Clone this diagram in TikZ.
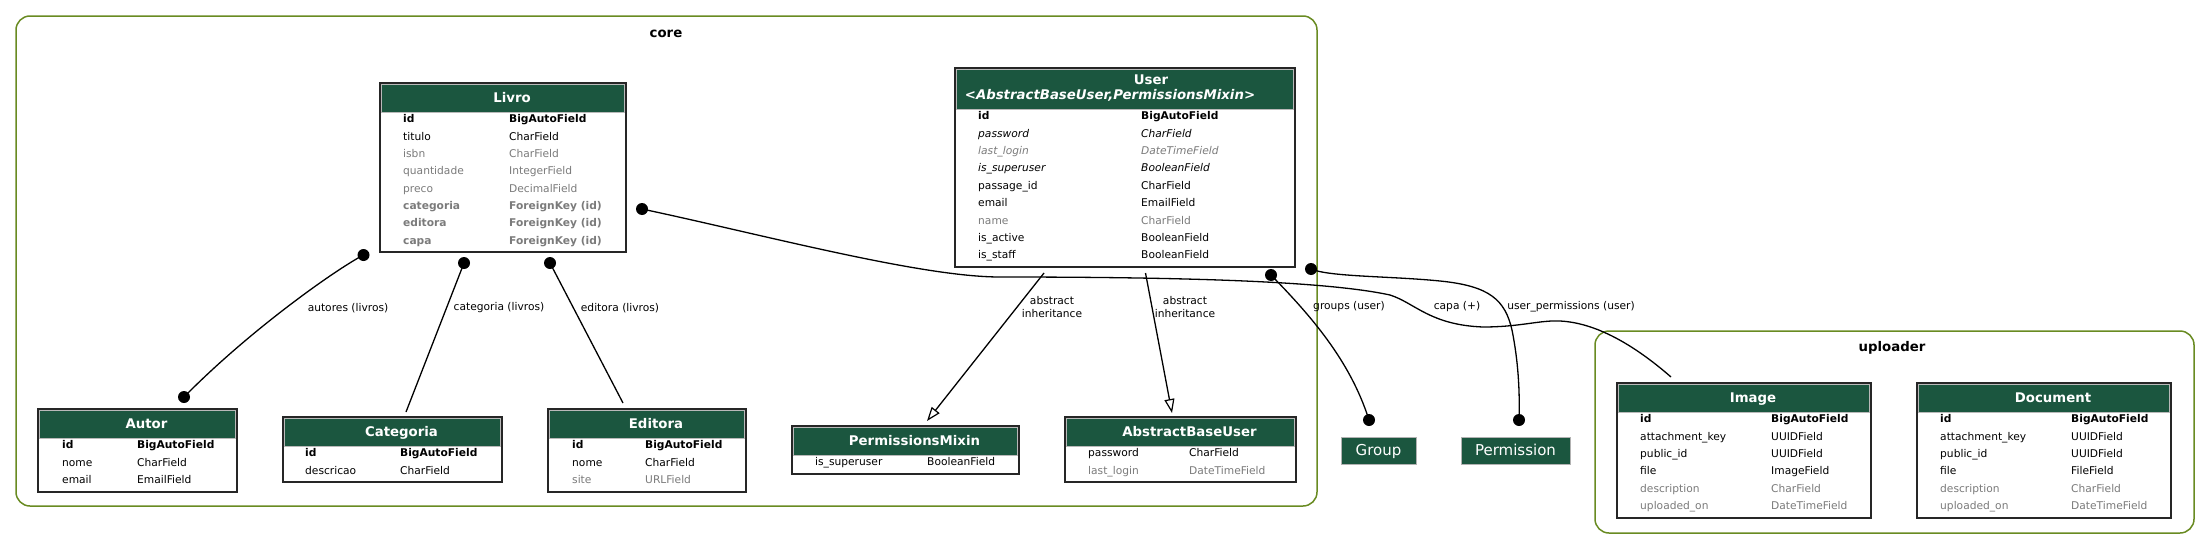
\documentclass[tikz,border=0pt]{standalone}
\usepackage{fontspec}
\setmainfont{DejaVu Sans}[BoldFont={DejaVu Sans Bold}, ItalicFont={DejaVu Sans Oblique}, BoldItalicFont={DejaVu Sans Bold Oblique}]
\usetikzlibrary{fit,arrows.meta}
\definecolor{hdrgreen}{HTML}{1B563F}
\definecolor{clusterc}{HTML}{698B22}
\definecolor{greytxt}{HTML}{7B7B7B}
\newcommand{\fsrow}{\fontsize{10.67}{12.4}\selectfont}
\newcommand{\fshdr}{\fontsize{13.3}{15}\selectfont\bfseries}
\tikzset{
  tblbox/.style={draw=black!85, line width=1.7pt, fill=white, inner sep=0pt},
  hdrbox/.style={draw=gray!55, line width=0.8pt, fill=hdrgreen, inner sep=0pt},
  hdrtext/.style={text=white, font=\fshdr, inner sep=0pt, text height=9.7pt, text depth=0pt},
  rowtext/.style={anchor=west, inner sep=0pt, font=\fsrow, text height=7.8pt, text depth=0pt},
  pk/.style={font=\fsrow\bfseries},
  gtxt/.style={text=greytxt},
  fk/.style={font=\fsrow\bfseries, text=greytxt},
  inh/.style={font=\fsrow\itshape},
  ginh/.style={font=\fsrow\itshape, text=greytxt},
  cluster/.style={draw=clusterc, line width=1.5pt, rounded corners=14pt, inner sep=0pt},
  clabel/.style={font=\fshdr, inner sep=0pt, text height=9.7pt, text depth=0pt},
  conn/.style={line width=1.3pt, black},
  dotn/.style={circle, fill=black, minimum size=12pt, inner sep=0pt},
  elabel/.style={font=\fsrow, inner sep=0pt, align=center},
  extbox/.style={fill=hdrgreen, draw=gray!60, line width=0.8pt, text=white, font=\fontsize{15}{17}\selectfont, inner sep=0pt, text height=10.9pt, text depth=0pt},
  inherit/.style={conn, -{Triangle[open, length=14pt, width=10pt, line width=1.2pt]}},
}
\newcommand{\mymodel}[7]{%
  \node[tblbox, fit={(#2,#3) (#4,#5)}] (#1) {};
  \node[hdrbox, fit={(#2+1.7,#3+1.7) (#4-1.7,#6)}] (#1-h) {};
  \node[hdrtext] (#1-t) at ({(#2+#4)/2+9},{(#3+#6)/2}) {#7};
}
\newcommand{\myrow}[7]{%
  \node[rowtext,#5] (#1-n) at (#3,#2) {#6};
  \node[rowtext,#5] (#1-y) at (#4,#2) {#7};
}
\begin{document}
\begin{tikzpicture}[x=1pt,y=-1pt]
\useasboundingbox (0,0) rectangle (2209,549);
% clusters
\node[cluster, fit={(16,16) (1317,506)}] (core) {};
\node[clabel] (core-l) at (666,33) {core};
\node[cluster, fit={(1595,331) (2194,533)}] (uploader) {};
\node[clabel] (uploader-l) at (1892,347) {uploader};

% Livro
\mymodel{livro}{380}{83}{626}{252}{112}{Livro}
\myrow{lv1}{119}{403}{509}{pk}{id}{BigAutoField}
\myrow{lv2}{136.3}{403}{509}{}{titulo}{CharField}
\myrow{lv3}{153.6}{403}{509}{gtxt}{isbn}{CharField}
\myrow{lv4}{170.9}{403}{509}{gtxt}{quantidade}{IntegerField}
\myrow{lv5}{188.2}{403}{509}{gtxt}{preco}{DecimalField}
\myrow{lv6}{205.5}{403}{509}{fk}{categoria}{ForeignKey (id)}
\myrow{lv7}{222.8}{403}{509}{fk}{editora}{ForeignKey (id)}
\myrow{lv8}{240.1}{403}{509}{fk}{capa}{ForeignKey (id)}

% User
\node[tblbox, fit={(955,68) (1295,267)}] (user) {};
\node[hdrbox, fit={(956.7,69.7) (1293.3,109)}] (user-h) {};
\node[hdrtext] (user-t1) at (1151,80) {User};
\node[hdrtext, font=\fshdr\itshape] (user-t2) at (1110,95) {<AbstractBaseUser,PermissionsMixin>};
\myrow{us1}{116}{978}{1141}{pk}{id}{BigAutoField}
\myrow{us2}{133.35}{978}{1141}{inh}{password}{CharField}
\myrow{us3}{150.7}{978}{1141}{ginh}{last\_login}{DateTimeField}
\myrow{us4}{168.05}{978}{1141}{inh}{is\_superuser}{BooleanField}
\myrow{us5}{185.4}{978}{1141}{}{passage\_id}{CharField}
\myrow{us6}{202.75}{978}{1141}{}{email}{EmailField}
\myrow{us7}{220.1}{978}{1141}{gtxt}{name}{CharField}
\myrow{us8}{237.45}{978}{1141}{}{is\_active}{BooleanField}
\myrow{us9}{254.8}{978}{1141}{}{is\_staff}{BooleanField}

% Autor
\mymodel{autor}{38}{409}{237}{492}{438}{Autor}
\myrow{au1}{445}{62}{137}{pk}{id}{BigAutoField}
\myrow{au2}{462.3}{62}{137}{}{nome}{CharField}
\myrow{au3}{479.6}{62}{137}{}{email}{EmailField}

% Categoria
\mymodel{categoria}{283}{417}{502}{482}{446}{Categoria}
\myrow{ca1}{453}{305}{400}{pk}{id}{BigAutoField}
\myrow{ca2}{470.3}{305}{400}{}{descricao}{CharField}

% Editora
\mymodel{editora}{548}{409}{746}{492}{438}{Editora}
\myrow{ed1}{445}{572}{645}{pk}{id}{BigAutoField}
\myrow{ed2}{462.3}{572}{645}{}{nome}{CharField}
\myrow{ed3}{479.6}{572}{645}{gtxt}{site}{URLField}

% PermissionsMixin
\mymodel{pmixin}{792}{426}{1019}{474}{455}{PermissionsMixin}
\myrow{pm1}{462}{815}{927}{}{is\_superuser}{BooleanField}

% AbstractBaseUser
\mymodel{abu}{1065}{417}{1296}{482}{446}{AbstractBaseUser}
\myrow{ab1}{453}{1088}{1189}{}{password}{CharField}
\myrow{ab2}{470.3}{1088}{1189}{gtxt}{last\_login}{DateTimeField}

% Group, Permission
\node[extbox, minimum width=75pt, minimum height=27pt] (group) at (1378.5,450.5) {Group};
\node[extbox, minimum width=109pt, minimum height=27pt] (permission) at (1515.5,450.5) {Permission};

% Image
\mymodel{image}{1617}{383}{1871}{518}{412}{Image}
\myrow{im1}{419}{1640}{1771}{pk}{id}{BigAutoField}
\myrow{im2}{436.3}{1640}{1771}{}{attachment\_key}{UUIDField}
\myrow{im3}{453.6}{1640}{1771}{}{public\_id}{UUIDField}
\myrow{im4}{470.9}{1640}{1771}{}{file}{ImageField}
\myrow{im5}{488.2}{1640}{1771}{gtxt}{description}{CharField}
\myrow{im6}{505.5}{1640}{1771}{gtxt}{uploaded\_on}{DateTimeField}

% Document
\mymodel{document}{1917}{383}{2171}{518}{412}{Document}
\myrow{do1}{419}{1940}{2071}{pk}{id}{BigAutoField}
\myrow{do2}{436.3}{1940}{2071}{}{attachment\_key}{UUIDField}
\myrow{do3}{453.6}{1940}{2071}{}{public\_id}{UUIDField}
\myrow{do4}{470.9}{1940}{2071}{}{file}{FileField}
\myrow{do5}{488.2}{1940}{2071}{gtxt}{description}{CharField}
\myrow{do6}{505.5}{1940}{2071}{gtxt}{uploaded\_on}{DateTimeField}

% connector ends
\node[dotn] (dA1) at (363.5,255) {};
\node[dotn] (dA2) at (184,397) {};
\node[dotn] (dC) at (464,263) {};
\node[dotn] (dE) at (550,263) {};
\node[dotn] (dP) at (642,209) {};
\node[dotn] (dG1) at (1271,275) {};
\node[dotn] (dG2) at (1369,420) {};
\node[dotn] (dU1) at (1311,269) {};
\node[dotn] (dU2) at (1519,420) {};
\coordinate (catend) at (406,412);
\coordinate (edend) at (623,403);
\coordinate (capend) at (1671,377);
\coordinate (ih1s) at (1044,273);
\coordinate (ih1e) at (927,421);
\coordinate (ih2s) at (1145.5,273);
\coordinate (ih2e) at (1172,413);

% connectors
\draw[conn] (dA1.center) .. controls (335,270) and (250,330) .. (dA2.center);
\draw[conn] (dC.center) -- (catend);
\draw[conn] (dE.center) -- (edend);
\draw[conn] (dP.center) .. controls (760,234) and (920,277) .. (1000,277)
  .. controls (1200,277) and (1330,282) .. (1390,295)
  .. controls (1415,303) and (1430,325) .. (1483,327)
  .. controls (1520,327) and (1540,320) .. (1560,321)
  .. controls (1600,323) and (1640,350) .. (capend);
\draw[inherit] (ih1s) -- (ih1e);
\draw[inherit] (ih2s) -- (ih2e);
\draw[conn] (dG1.center) .. controls (1310,315) and (1350,360) .. (dG2.center);
\draw[conn] (dU1.center) .. controls (1330,277) and (1390,276) .. (1440,281)
  .. controls (1490,286) and (1505,300) .. (1512,330)
  .. controls (1518,360) and (1520,390) .. (dU2.center);

% edge labels
\node[elabel] (l-aut) at (348,308) {autores (livros)};
\node[elabel] (l-cat) at (499,308) {categoria (livros)};
\node[elabel] (l-edi) at (620,308) {editora (livros)};
\node[elabel] (l-ih1) at (1052,307) {abstract\\inheritance};
\node[elabel] (l-ih2) at (1185,307) {abstract\\inheritance};
\node[elabel] (l-grp) at (1349,307) {groups (user)};
\node[elabel] (l-capa) at (1457,307) {capa (+)};
\node[elabel] (l-perm) at (1571,307) {user\_permissions (user)};
\end{tikzpicture}
\end{document}
